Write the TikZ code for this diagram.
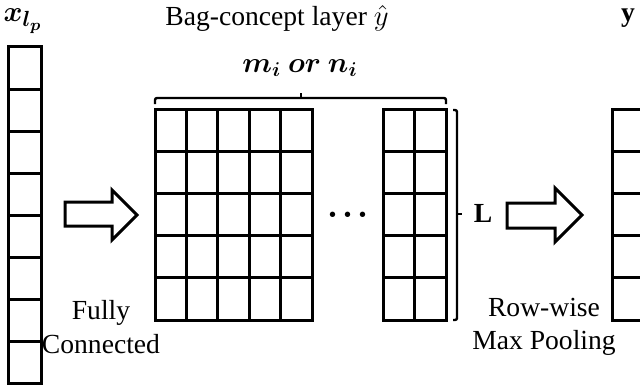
\documentclass[tikz,border=0pt]{standalone}
\usepackage{fontspec}
\setmainfont{Liberation Serif}
\usepackage{bm}

\begin{document}
\begin{tikzpicture}[x=0.5pt,y=-0.5pt,line width=1.5pt,font=\fontsize{13.8}{16.6}\selectfont]
\useasboundingbox (0,0) rectangle (640,390);

\foreach \i in {0,...,7} \draw (8,47+42*\i) rectangle ++(33,42);
\node[font=\fontsize{15.5}{18}\selectfont,inner sep=1pt] (xin) at (23,21) {$\bm{x_{l_p}}$};

\foreach \i in {0,...,4} \foreach \j in {0,...,4}
  \draw (155+31.4*\i,109+42.2*\j) rectangle ++(31.4,42.2);
\foreach \i in {0,1} \foreach \j in {0,...,4}
  \draw (383+31.5*\i,109+42.2*\j) rectangle ++(31.5,42.2);
\node[font=\fontsize{19}{20}\selectfont] (dots) at (348,215) {$\bm{\cdot}$\hspace{2.2pt}$\bm{\cdot}$\hspace{2.2pt}$\bm{\cdot}$};
\node (bag) at (277,18) {Bag-concept layer $\hat{y}$};

\draw[line width=1.2pt,rounded corners=1pt] (155,104) -- (155,98) -- (446,98) -- (446,104);
\draw[line width=1.2pt] (301,98) -- (301,93);
\node (dim) at (300,68) {$\bm{m_i\ or\ n_i}$};
\draw[line width=1.2pt,rounded corners=1pt] (453,110) -- (457,110) -- (457,320) -- (453,320);
\draw[line width=1.2pt] (457,214) -- (462,214);
\node (len) at (483,213) {\textbf{L}};

\foreach \j in {0,...,4} \draw (612,109+42.2*\j) rectangle ++(33,42.2);
\node (yout) at (628,18) {$\mathbf{y}$};

\draw (65,202) -- (112,202) -- (112,190) -- (137,215) -- (112,240) -- (112,226) -- (65,226) -- cycle;
\node[align=center] (fc) at (101,327) {Fully\\Connected};

\draw (507,203) -- (555,203) -- (555,188) -- (582,215) -- (555,242) -- (555,228) -- (507,228) -- cycle;
\node[align=center] (pool) at (544,327) {Row-wise\\Max Pooling};
\end{tikzpicture}
\end{document}
